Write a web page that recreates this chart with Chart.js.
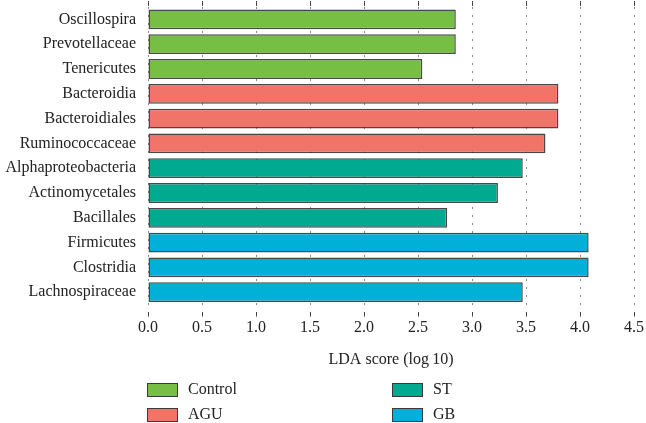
<!DOCTYPE html>
<html>
<head>
<meta charset="utf-8">
<script src="https://cdn.jsdelivr.net/npm/chart.js@4/dist/chart.umd.min.js"></script>
<style>
  html, body { margin: 0; padding: 0; background: #fff; }
  #wrap { width: 646px; height: 423px; position: relative; }
</style>
</head>
<body>
<div id="wrap"><canvas id="lda-chart"></canvas></div>
<script>
const taxa = ['Oscillospira', 'Prevotellaceae', 'Tenericutes', 'Bacteroidia', 'Bacteroidiales',
    'Ruminococcaceae', 'Alphaproteobacteria', 'Actinomycetales', 'Bacillales', 'Firmicutes',
    'Clostridia', 'Lachnospiraceae'];
const ldaScores = [2.85, 2.85, 2.54, 3.80, 3.80, 3.68, 3.47, 3.24, 2.77, 4.08, 4.08, 3.47];
const taxonGroup = ['Control', 'Control', 'Control', 'AGU', 'AGU', 'AGU', 'ST', 'ST', 'ST', 'GB', 'GB', 'GB'];
const groups = ['Control', 'AGU', 'ST', 'GB'];
const groupColors = { Control: '#77bf44', AGU: '#f07468', ST: '#00aa90', GB: '#00b0d6' };
const xTicks = [0, 0.5, 1, 1.5, 2, 2.5, 3, 3.5, 4, 4.5];

const serif = '"Liberation Serif", "Times New Roman", serif';

// legend drawn in two columns under the axis title
const groupLegend = {
    id: 'groupLegend',
    afterDraw(chart) {
        const ctx = chart.ctx;
        const left = chart.chartArea.left - 1;
        const colGap = 245;
        const rowY = [383, 408];
        ctx.save();
        ctx.font = '16px ' + serif;
        ctx.textBaseline = 'middle';
        ctx.textAlign = 'left';
        groups.forEach((g, i) => {
            const x = left + Math.floor(i / 2) * colGap;
            const y = rowY[i % 2];
            ctx.fillStyle = groupColors[g];
            ctx.fillRect(x, y, 31, 14);
            ctx.strokeStyle = '#3a3a3a';
            ctx.lineWidth = 1;
            ctx.strokeRect(x + 0.5, y + 0.5, 30, 13);
            ctx.fillStyle = '#222';
            ctx.fillText(g, x + 41, y + 7);
        });
        ctx.restore();
    }
};

const ctx = document.getElementById('lda-chart').getContext('2d');
const chart = new Chart(ctx, {
    type: 'bar',
    data: {
        labels: taxa,
        datasets: [{
            label: 'LDA score',
            data: ldaScores,
            backgroundColor: taxonGroup.map(g => groupColors[g]),
            borderColor: 'rgba(40, 40, 40, 0.85)',
            borderWidth: 1.5,
            borderSkipped: false,
            categoryPercentage: 1,
            barPercentage: 0.8
        }]
    },
    options: {
        indexAxis: 'y',
        responsive: true,
        maintainAspectRatio: false,
        animation: false,
        layout: { padding: { left: 2, right: 0, top: 1, bottom: 52 } },
        plugins: {
            legend: { display: false },
            tooltip: { enabled: false }
        },
        scales: {
            x: {
                type: 'linear',
                position: 'bottom',
                min: 0,
                max: 4.5,
                z: 1,
                afterBuildTicks: axis => { axis.ticks = xTicks.map(v => ({ value: v })); },
                ticks: {
                    callback: v => Number(v).toFixed(1),
                    font: { family: serif, size: 16 },
                    color: '#222',
                    padding: 2
                },
                grid: {
                    color: 'rgba(90, 90, 90, 0.7)',
                    lineWidth: 1,
                    tickLength: 12,
                    tickColor: '#444',
                    tickBorderDash: [0, 7, 5, 30]
                },
                border: { display: false, dash: [2, 6] },
                title: {
                    display: true,
                    text: 'LDA score (log\u200910)',
                    font: { family: serif, size: 16 },
                    color: '#222',
                    padding: { top: 10, bottom: 2 }
                }
            },
            x2: {
                type: 'linear',
                position: 'top',
                min: 0,
                max: 4.5,
                afterBuildTicks: axis => { axis.ticks = xTicks.map(v => ({ value: v })); },
                ticks: { display: false },
                grid: {
                    drawOnChartArea: false,
                    tickLength: 6,
                    tickColor: '#444',
                    tickBorderDash: [5, 30]
                },
                border: { display: false }
            },
            y: {
                grid: { display: false, drawTicks: false },
                border: { display: false },
                ticks: {
                    font: { family: serif, size: 16 },
                    color: '#222',
                    padding: 12
                },
                afterFit: axis => {
                    axis.width = 146;
                    axis.paddingTop = 0;
                    axis.paddingBottom = 0;
                }
            }
        }
    },
    plugins: [groupLegend]
});
</script>
</body>
</html>
